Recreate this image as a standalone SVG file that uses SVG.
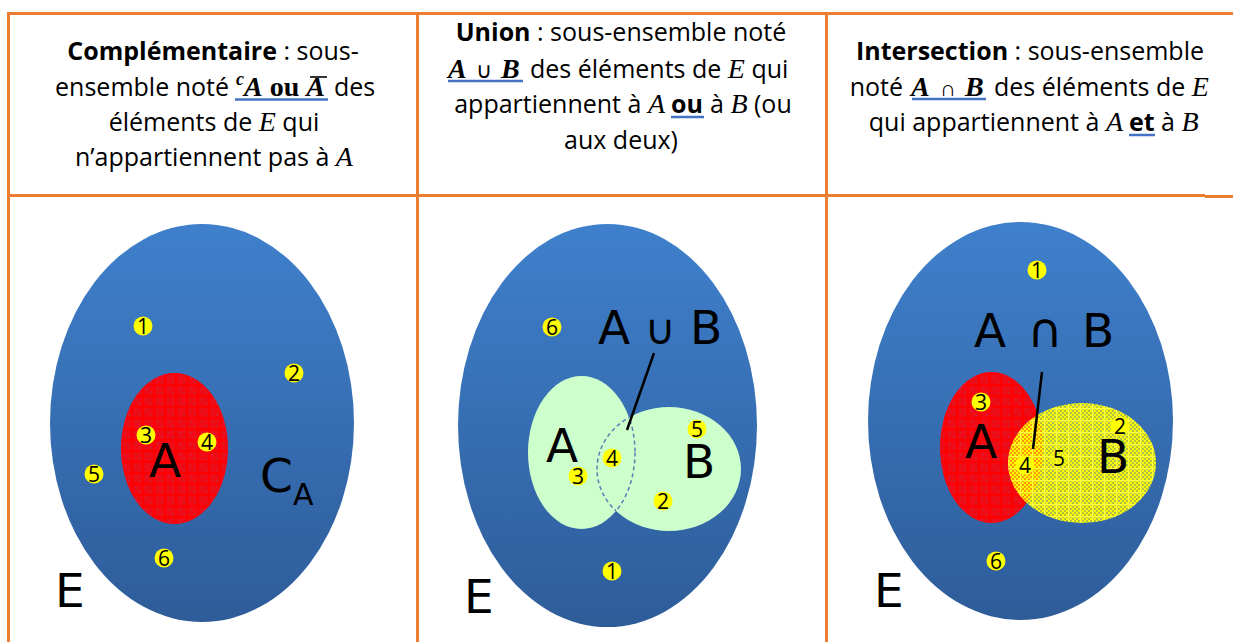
<svg xmlns="http://www.w3.org/2000/svg" width="1233" height="642" viewBox="0 0 1233 642">
<style>
.h{font-family:"Open Sans","Liberation Sans",sans-serif;font-size:25px;fill:#000;text-anchor:middle}
.hs{font-family:"Open Sans","Liberation Sans",sans-serif;font-size:25px;fill:#000;text-anchor:start}
.he{font-family:"Open Sans","Liberation Sans",sans-serif;font-size:25px;fill:#000;text-anchor:end}
.b{font-weight:bold}
.m{font-family:"Liberation Serif",serif;font-style:italic;font-size:28px}
.mb{font-family:"Liberation Serif",serif;font-style:italic;font-weight:bold;font-size:28px}
.sb{font-family:"Liberation Serif",serif;font-weight:bold;font-size:28px}
.ul{stroke:#4472C4;stroke-width:2.5}
.tb{stroke:#ED7D31;stroke-width:3;fill:none}
.big{font-family:"DejaVu Sans",sans-serif;font-size:47px;fill:#000}
.sub{font-family:"DejaVu Sans",sans-serif;font-size:30px;fill:#000}
.op{font-family:"DejaVu Sans",sans-serif;fill:#000;text-anchor:middle}
.dot{fill:#FFFF00}
.num{font-family:"Open Sans","DejaVu Sans",sans-serif;font-size:21px;fill:#000;text-anchor:middle}
.lead{stroke:#000;stroke-width:2.5}
.dash{fill:none;stroke:#5B7FB5;stroke-width:1.5;stroke-dasharray:4 3}
</style>
<defs>
<linearGradient id="blue" x1="0" y1="0" x2="0" y2="1">
<stop offset="0" stop-color="#3F80CC"/>
<stop offset="1" stop-color="#2E5C99"/>
</linearGradient>
<pattern id="redpat" width="11" height="11" patternUnits="userSpaceOnUse">
<rect width="11" height="11" fill="#FF0000"/>
<rect x="1" y="1" width="9" height="9" fill="#F00A16"/>
<rect x="3" y="3" width="2" height="2" fill="#D81C2A"/>
<rect x="7" y="7" width="2" height="2" fill="#D81C2A"/>
</pattern>
<pattern id="yelpat" width="12" height="12" patternUnits="userSpaceOnUse">
<rect width="12" height="12" fill="#FFFF00" fill-opacity="0.6"/>
<path d="M0 0h2v2H0zM4 0h2v2H4zM8 0h2v2H8zM2 2h2v2H2zM6 2h2v2H6zM10 2h2v2h-2zM0 4h2v2H0zM4 4h2v2H4zM8 4h2v2H8zM2 6h2v2H2zM6 6h2v2H6zM10 6h2v2h-2zM0 8h2v2H0zM4 8h2v2H4zM8 8h2v2H8zM2 10h2v2H2zM6 10h2v2H6zM10 10h2v2h-2z" fill="#FFFF00"/>
<rect x="0" y="0" width="12" height="1.2" fill="#FFFF40"/>
<rect x="0" y="0" width="1.2" height="12" fill="#FFFF40"/>
</pattern>
<clipPath id="clipB2"><ellipse cx="669" cy="469" rx="72" ry="62"/></clipPath>
<clipPath id="clipA2"><ellipse cx="581.5" cy="452.5" rx="53.5" ry="76.5"/></clipPath>
</defs>
<rect width="1233" height="642" fill="#FFFFFF"/>

<g id="table">
<line class="tb" x1="7" y1="13.5" x2="1233" y2="13.5"/>
<line class="tb" x1="7" y1="195.5" x2="1205" y2="195.5"/>
<line class="tb" x1="1205" y1="196.5" x2="1233" y2="196.5"/>
<line class="tb" x1="8.5" y1="12" x2="8.5" y2="642"/>
<line class="tb" x1="417.5" y1="12" x2="417.5" y2="642"/>
<line class="tb" x1="826.5" y1="12" x2="826.5" y2="642"/>
</g>

<g id="header-complementaire">
<text class="h" x="213" y="60"><tspan class="b">Complémentaire</tspan> : sous-</text>
<text class="he" x="229" y="96">ensemble noté</text>
<text class="hs" x="236" y="96"><tspan class="mb" style="font-size:18px" dy="-11">c</tspan><tspan class="mb" dy="11">A</tspan><tspan class="sb"> ou </tspan><tspan class="mb">A</tspan></text>
<text class="hs" x="334" y="96">des</text>
<line x1="310" y1="77" x2="327" y2="77" stroke="#000" stroke-width="1.6"/>
<line class="ul" x1="235" y1="99.5" x2="328" y2="99.5"/>
<text class="h" x="214" y="131">éléments de <tspan class="m">E</tspan> qui</text>
<text class="h" x="214" y="166">n’appartiennent pas à <tspan class="m">A</tspan></text>
</g>

<g id="header-union">
<text class="h" x="621" y="41"><tspan class="b">Union</tspan> : sous-ensemble noté</text>
<text class="hs" y="78"><tspan class="mb" x="448">A</tspan><tspan x="476" style="font-size:22px">∪</tspan><tspan class="mb" x="501">B</tspan></text>
<text class="hs" x="530" y="78">des éléments de <tspan class="m">E</tspan> qui</text>
<line class="ul" x1="448" y1="81" x2="523" y2="81"/>
<text class="he" x="665" y="113">appartiennent à <tspan class="m">A</tspan></text>
<text class="hs b" x="671" y="113">ou</text>
<text class="hs" x="710" y="113">à <tspan class="m">B</tspan> (ou</text>
<line class="ul" x1="671" y1="117" x2="704" y2="117"/>
<text class="h" x="621" y="149">aux deux)</text>
</g>

<g id="header-intersection">
<text class="h" x="1030" y="60"><tspan class="b">Intersection</tspan> : sous-ensemble</text>
<text class="he" x="903" y="96">noté</text>
<text class="hs" y="96"><tspan class="mb" x="911">A</tspan><tspan x="940" style="font-size:22px">∩</tspan><tspan class="mb" x="965">B</tspan></text>
<text class="hs" x="994" y="96">des éléments de <tspan class="m">E</tspan></text>
<line class="ul" x1="912" y1="99" x2="986" y2="99"/>
<text class="he" x="1123" y="131">qui appartiennent à <tspan class="m">A</tspan></text>
<text class="hs b" x="1129" y="131">et</text>
<text class="hs" x="1161" y="131">à <tspan class="m">B</tspan></text>
<line class="ul" x1="1129" y1="135" x2="1155" y2="135"/>
</g>

<g id="diagram-complementaire">
<ellipse id="E1" cx="202" cy="423" rx="152" ry="199" fill="url(#blue)"/>
<ellipse id="A1" cx="174.5" cy="448.5" rx="53.5" ry="75.5" fill="url(#redpat)"/>
<text class="big" x="149" y="477">A</text>
<text class="big" x="260" y="492">C</text>
<text class="sub" x="293" y="505">A</text>
<text class="big" x="55" y="607">E</text>
<g id="dots1">
<circle class="dot" cx="143" cy="326" r="9.5"/><text class="num" x="143" y="333.5">1</text>
<circle class="dot" cx="294" cy="373" r="9.5"/><text class="num" x="294" y="380.5">2</text>
<circle class="dot" cx="146" cy="435" r="9.5"/><text class="num" x="146" y="442.5">3</text>
<circle class="dot" cx="207" cy="442" r="9.5"/><text class="num" x="207" y="449.5">4</text>
<circle class="dot" cx="94" cy="474" r="9.5"/><text class="num" x="94" y="481.5">5</text>
<circle class="dot" cx="164" cy="558" r="9.5"/><text class="num" x="164" y="565.5">6</text>
</g>
</g>

<g id="diagram-union">
<ellipse id="E2" cx="607.5" cy="425.5" rx="149.5" ry="201.5" fill="url(#blue)"/>
<ellipse id="A2" cx="581.5" cy="452.5" rx="53.5" ry="76.5" fill="#CCFFCC"/>
<ellipse id="B2" cx="669" cy="469" rx="72" ry="62" fill="#CCFFCC"/>
<ellipse class="dash" cx="581.5" cy="452.5" rx="53.5" ry="76.5" clip-path="url(#clipB2)"/>
<ellipse class="dash" cx="669" cy="469" rx="72" ry="62" clip-path="url(#clipA2)"/>
<text class="big" x="598" y="344">A</text>
<text class="op" x="660" y="344" style="font-size:42px">∪</text>
<text class="big" x="690" y="344">B</text>
<text class="big" x="546" y="462">A</text>
<text class="big" x="683" y="478">B</text>
<text class="big" x="464" y="613">E</text>
<g id="dots2">
<circle class="dot" cx="552" cy="327" r="9.5"/><text class="num" x="552" y="334.5">6</text>
<circle class="dot" cx="612" cy="458" r="9.5"/><text class="num" x="612" y="465.5">4</text>
<circle class="dot" cx="578" cy="476" r="9.5"/><text class="num" x="578" y="483.5">3</text>
<circle class="dot" cx="697" cy="429" r="9.5"/><text class="num" x="697" y="436.5">5</text>
<circle class="dot" cx="663" cy="501" r="9.5"/><text class="num" x="663" y="508.5">2</text>
<circle class="dot" cx="612" cy="571" r="9.5"/><text class="num" x="612" y="578.5">1</text>
</g>
</g>

<g id="diagram-intersection">
<ellipse id="E3" cx="1020.5" cy="421" rx="152.5" ry="199" fill="url(#blue)"/>
<ellipse id="A3" cx="991.5" cy="447.5" rx="51.5" ry="75.5" fill="url(#redpat)"/>
<ellipse id="B3" cx="1082" cy="463" rx="74" ry="60" fill="url(#yelpat)"/>
<text class="big" x="974" y="347">A</text>
<text class="op" x="1045" y="347" style="font-size:48px">∩</text>
<text class="big" x="1082" y="347">B</text>
<text class="big" x="965" y="458">A</text>
<text class="big" x="1097" y="473">B</text>
<text class="big" x="874" y="607">E</text>
<g id="dots3">
<circle class="dot" cx="1037" cy="270" r="9.5"/><text class="num" x="1037" y="277.5">1</text>
<circle class="dot" cx="1120" cy="426" r="9.5"/><text class="num" x="1120" y="433.5">2</text>
<circle class="dot" cx="981" cy="402" r="9.5"/><text class="num" x="981" y="409.5">3</text>
<circle class="dot" cx="1025" cy="465" r="9.5"/><text class="num" x="1025" y="472.5">4</text>
<circle class="dot" cx="1059" cy="458" r="9.5" fill-opacity="0.5"/><text class="num" x="1059" y="465.5">5</text>
<circle class="dot" cx="996" cy="561" r="9.5"/><text class="num" x="996" y="568.5">6</text>
</g>
</g>

<g id="connectors">
<line class="lead" x1="654" y1="353" x2="627" y2="430"/>
<line class="lead" x1="1042" y1="372" x2="1033" y2="449"/>
</g>
</svg>
